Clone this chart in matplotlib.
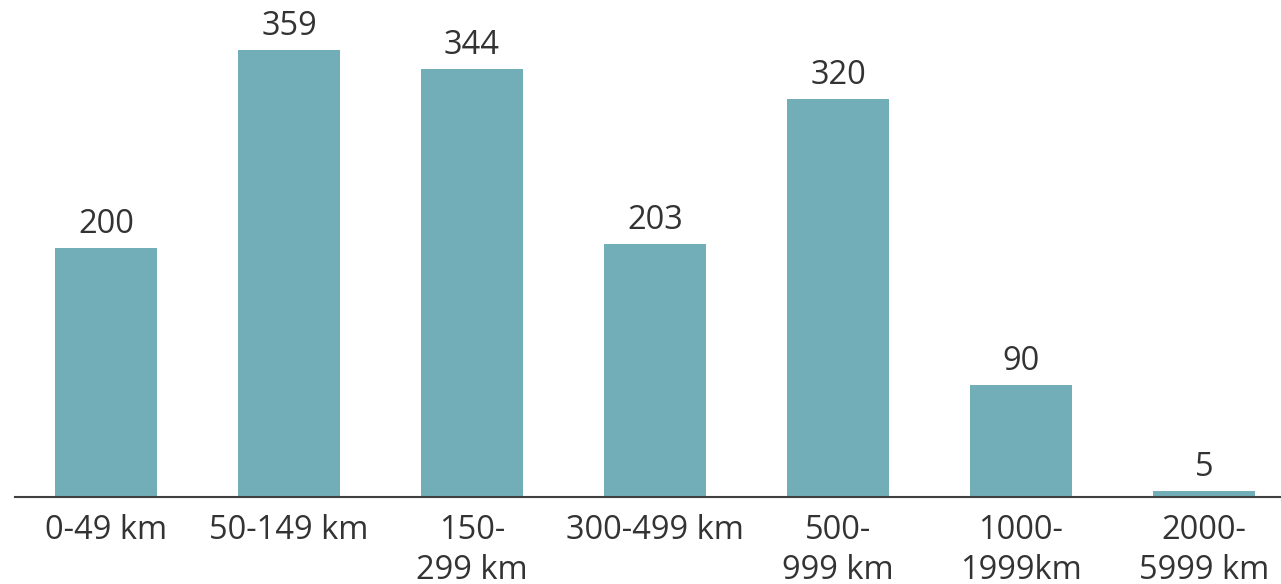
import matplotlib
matplotlib.use("Agg")
import matplotlib.pyplot as plt

categories = ["0-49 km", "50-149 km", "150-\n299 km", "300-499 km",
              "500-\n999 km", "1000-\n1999km", "2000-\n5999 km"]
values = [200, 359, 344, 203, 320, 90, 5]

plt.rcParams["font.family"] = ["Open Sans", "DejaVu Sans"]
text_color = "#333333"
bar_color = "#72aeb8"

fig = plt.figure(figsize=(12.81, 5.84), dpi=100)
ax = fig.add_axes([14.5 / 1281, 87 / 584, 1.0, 497 / 584])

x = range(len(categories))
bars = ax.bar(x, values, width=0.56, color=bar_color)
ax.set_xlim(-0.5, 6.5)
ax.set_ylim(0, 399.2)

for b, v in zip(bars, values):
    ax.annotate(str(v), (b.get_x() + b.get_width() / 2, v),
                xytext=(0, 5), textcoords="offset points",
                ha="center", va="bottom", fontsize=23.5, color=text_color)

ax.set_xticks(list(x))
ax.set_xticklabels(categories, fontsize=23.5, color=text_color, linespacing=1.3)
ax.tick_params(axis="x", length=0, pad=12)
ax.set_yticks([])
for s in ("top", "right", "left"):
    ax.spines[s].set_visible(False)
ax.spines["bottom"].set_color("#404040")
ax.spines["bottom"].set_linewidth(1.5)

fig.savefig("out.png", dpi=100)
